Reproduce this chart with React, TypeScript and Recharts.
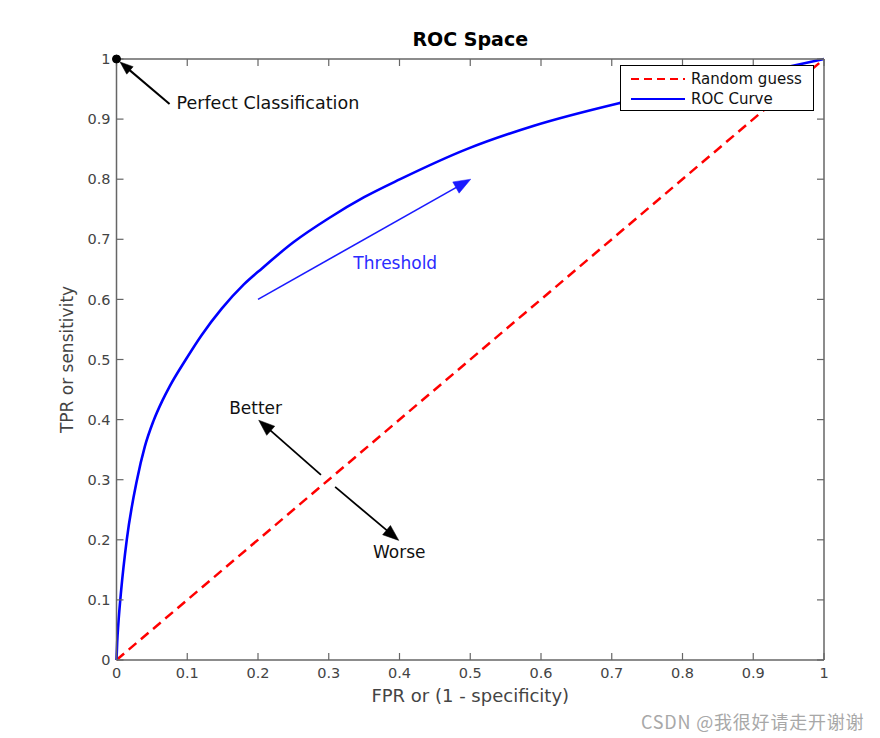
import React from 'react';
import {
  LineChart,
  Line,
  XAxis,
  YAxis,
  ReferenceLine,
  ReferenceDot,
  Legend,
} from 'recharts';

// ---- data ----
const rocFpr = [0, 0.001, 0.0026, 0.0065, 0.0145, 0.029, 0.04, 0.052, 0.065, 0.075, 0.098, 0.12, 0.149, 0.18, 0.206, 0.25, 0.3, 0.35, 0.401, 0.495, 0.59, 0.712, 0.85, 0.93, 1];
const rocTpr = [0, 0.03, 0.06, 0.115, 0.2, 0.3, 0.355, 0.397, 0.432, 0.455, 0.5, 0.54, 0.585, 0.625, 0.652, 0.695, 0.735, 0.77, 0.8, 0.85, 0.889, 0.927, 0.962, 0.982, 1];
const randomFpr = [0, 1];
const randomTpr = [0, 1];
const xTicks = [0, 0.1, 0.2, 0.3, 0.4, 0.5, 0.6, 0.7, 0.8, 0.9, 1];
const yTicks = [0, 0.1, 0.2, 0.3, 0.4, 0.5, 0.6, 0.7, 0.8, 0.9, 1];
const tickLabels = ['0', '0.1', '0.2', '0.3', '0.4', '0.5', '0.6', '0.7', '0.8', '0.9', '1'];
const legendOrder = ['Random guess', 'ROC Curve'];

// annotations in data coordinates
const arrows = [
  { from: [0.075, 0.925], to: [0.005, 0.995], color: '#000000', width: 2, head: 13 },
  { from: [0.2, 0.6], to: [0.5007, 0.8], color: '#1a1aff', width: 1.6, head: 17 },
  { from: [0.289, 0.308], to: [0.201, 0.399], color: '#000000', width: 1.8, head: 16 },
  { from: [0.309, 0.288], to: [0.399, 0.199], color: '#000000', width: 1.8, head: 16 },
];
const notes = [
  { text: 'Perfect Classification', x: 0.0849, y: 0.9268, anchor: 'start', color: '#111111' },
  { text: 'Threshold', x: 0.394, y: 0.6606, anchor: 'middle', color: '#2b2bff' },
  { text: 'Better', x: 0.1966, y: 0.419, anchor: 'middle', color: '#111111' },
  { text: 'Worse', x: 0.3996, y: 0.1789, anchor: 'middle', color: '#111111' },
];

const rocData = rocFpr.map((x, i) => ({ x, y: rocTpr[i] }));
const randomData = randomFpr.map((x, i) => ({ x, y: randomTpr[i] }));

const FONT = '"DejaVu Sans", "Liberation Sans", Arial, sans-serif';
const AXIS = '#666666';

const makeArrow = (color: string, width: number, head: number) => (props: any) => {
  const { x1, y1, x2, y2 } = props;
  const ang = Math.atan2(y2 - y1, x2 - x1);
  const c = Math.cos(ang);
  const s = Math.sin(ang);
  const bx = x2 - head * c;
  const by = y2 - head * s;
  const w = head * 0.38;
  const pts = `${x2},${y2} ${bx + w * s},${by - w * c} ${bx - w * s},${by + w * c}`;
  return (
    <g>
      <line x1={x1} y1={y1} x2={bx + 2 * c} y2={by + 2 * s} stroke={color} strokeWidth={width} />
      <polygon points={pts} fill={color} stroke={color} strokeWidth={0.5} />
    </g>
  );
};

const makeNote = (text: string, anchor: string, color: string, size: number) => (props: any) => (
  <text
    x={props.cx}
    y={props.cy}
    textAnchor={anchor as any}
    dominantBaseline="central"
    fontFamily={FONT}
    fontSize={size}
    fill={color}
  >
    {text}
  </text>
);

const LegendBox = (props: any) => {
  const payload = (props.payload || [])
    .filter((p: any) => legendOrder.indexOf(p.value) >= 0)
    .sort((a: any, b: any) => legendOrder.indexOf(a.value) - legendOrder.indexOf(b.value));
  return (
    <div
      style={{
        width: 194,
        height: 46,
        border: '1px solid #000',
        background: '#fff',
        boxSizing: 'border-box',
        fontFamily: FONT,
        fontSize: 15,
        color: '#111',
        paddingTop: 3,
      }}
    >
      {payload.map((p: any, i: number) => (
        <div key={i} style={{ display: 'flex', alignItems: 'center', height: 20 }}>
          <svg width={70} height={10} style={{ flex: 'none' }}>
            <line
              x1={10}
              y1={5}
              x2={64}
              y2={5}
              stroke={p.color}
              strokeWidth={2}
              strokeDasharray={p.value === 'Random guess' ? '8 5' : undefined}
            />
          </svg>
          <span style={{ lineHeight: '20px' }}>{p.value}</span>
        </div>
      ))}
    </div>
  );
};

export default function App() {
  return (
    <div style={{ position: 'absolute', left: 0, top: 0, width: 880, height: 738, background: '#fff' }}>
      <LineChart
        width={880}
        height={738}
        margin={{ top: 58, right: 55, bottom: 38, left: 56.5 }}
        style={{ fontFamily: FONT }}
      >
        <XAxis
          dataKey="x"
          type="number"
          domain={[0, 1]}
          ticks={xTicks}
          tickFormatter={(v: number) => tickLabels[xTicks.indexOf(v)] ?? String(v)}
          height={40}
          tickSize={-7}
          tickMargin={15}
          axisLine={{ stroke: AXIS, strokeWidth: 1.5 }}
          tickLine={{ stroke: AXIS, strokeWidth: 1.2 }}
          tick={{ fill: '#444', fontSize: 14.5, fontFamily: FONT }}
          interval={0}
          label={{ value: 'FPR or (1 - specificity)', position: 'insideBottom', offset: -2, fill: '#444', fontSize: 18, fontFamily: FONT }}
        />
        <XAxis
          xAxisId="top"
          orientation="top"
          dataKey="x"
          type="number"
          domain={[0, 1]}
          ticks={xTicks}
          height={1}
          tickSize={-7}
          tickFormatter={() => ''}
          axisLine={{ stroke: AXIS, strokeWidth: 1.5 }}
          tickLine={{ stroke: AXIS, strokeWidth: 1.2 }}
          interval={0}
          label={{ value: 'ROC Space', position: 'top', offset: 12, fill: '#000', fontSize: 19, fontWeight: 'bold', fontFamily: FONT }}
        />
        <YAxis
          type="number"
          domain={[0, 1]}
          ticks={yTicks}
          tickFormatter={(v: number) => tickLabels[yTicks.indexOf(v)] ?? String(v)}
          width={60}
          tickSize={-7}
          tickMargin={13}
          axisLine={{ stroke: AXIS, strokeWidth: 1.5 }}
          tickLine={{ stroke: AXIS, strokeWidth: 1.2 }}
          tick={{ fill: '#444', fontSize: 14.5, fontFamily: FONT }}
          interval={0}
          label={{
            value: 'TPR or sensitivity',
            angle: -90,
            position: 'insideLeft',
            offset: 10.5,
            fill: '#444',
            fontSize: 17,
            fontFamily: FONT,
            style: { textAnchor: 'middle' },
          }}
        />
        <YAxis
          yAxisId="right"
          orientation="right"
          type="number"
          domain={[0, 1]}
          ticks={yTicks}
          width={1}
          tickSize={-7}
          tickFormatter={() => ''}
          axisLine={{ stroke: AXIS, strokeWidth: 1.5 }}
          tickLine={{ stroke: AXIS, strokeWidth: 1.2 }}
          interval={0}
        />
        <Legend
          layout="vertical"
          align="center"
          verticalAlign="middle"
          content={<LegendBox />}
          wrapperStyle={{ left: 620, top: 65, width: 194, height: 46 }}
        />
        {/* invisible series binding the frame axes (top / right) */}
        <Line
          xAxisId="top"
          yAxisId="right"
          data={randomData}
          dataKey="y"
          stroke="none"
          dot={false}
          activeDot={false}
          legendType="none"
          isAnimationActive={false}
        />
        <Line
          name="Random guess"
          data={randomData}
          dataKey="y"
          type="linear"
          stroke="#ff0000"
          strokeWidth={2.5}
          strokeDasharray="10 6"
          dot={false}
          activeDot={false}
          isAnimationActive={false}
        />
        <Line
          name="ROC Curve"
          data={rocData}
          dataKey="y"
          type="monotone"
          stroke="#0000ff"
          strokeWidth={2.6}
          dot={false}
          activeDot={false}
          isAnimationActive={false}
        />
        {arrows.map((a, i) => (
          <ReferenceLine
            key={'a' + i}
            segment={[
              { x: a.from[0], y: a.from[1] },
              { x: a.to[0], y: a.to[1] },
            ]}
            ifOverflow="visible"
            shape={makeArrow(a.color, a.width, a.head)}
          />
        ))}
        {notes.map((n, i) => (
          <ReferenceDot
            key={'n' + i}
            x={n.x}
            y={n.y}
            r={0}
            ifOverflow="visible"
            shape={makeNote(n.text, n.anchor, n.color, i === 0 ? 17.5 : 17)}
          />
        ))}
        <ReferenceDot x={0} y={1} r={4} fill="#000" stroke="#000" ifOverflow="visible" />
      </LineChart>
      <div
        style={{
          position: 'absolute',
          left: 641,
          top: 708,
          fontSize: 18,
          letterSpacing: 0.8,
          color: '#a8a8a8',
          fontFamily: '"Noto Sans CJK SC", "DejaVu Sans", sans-serif',
          whiteSpace: 'nowrap',
        }}
      >
        CSDN @我很好请走开谢谢
      </div>
    </div>
  );
}
